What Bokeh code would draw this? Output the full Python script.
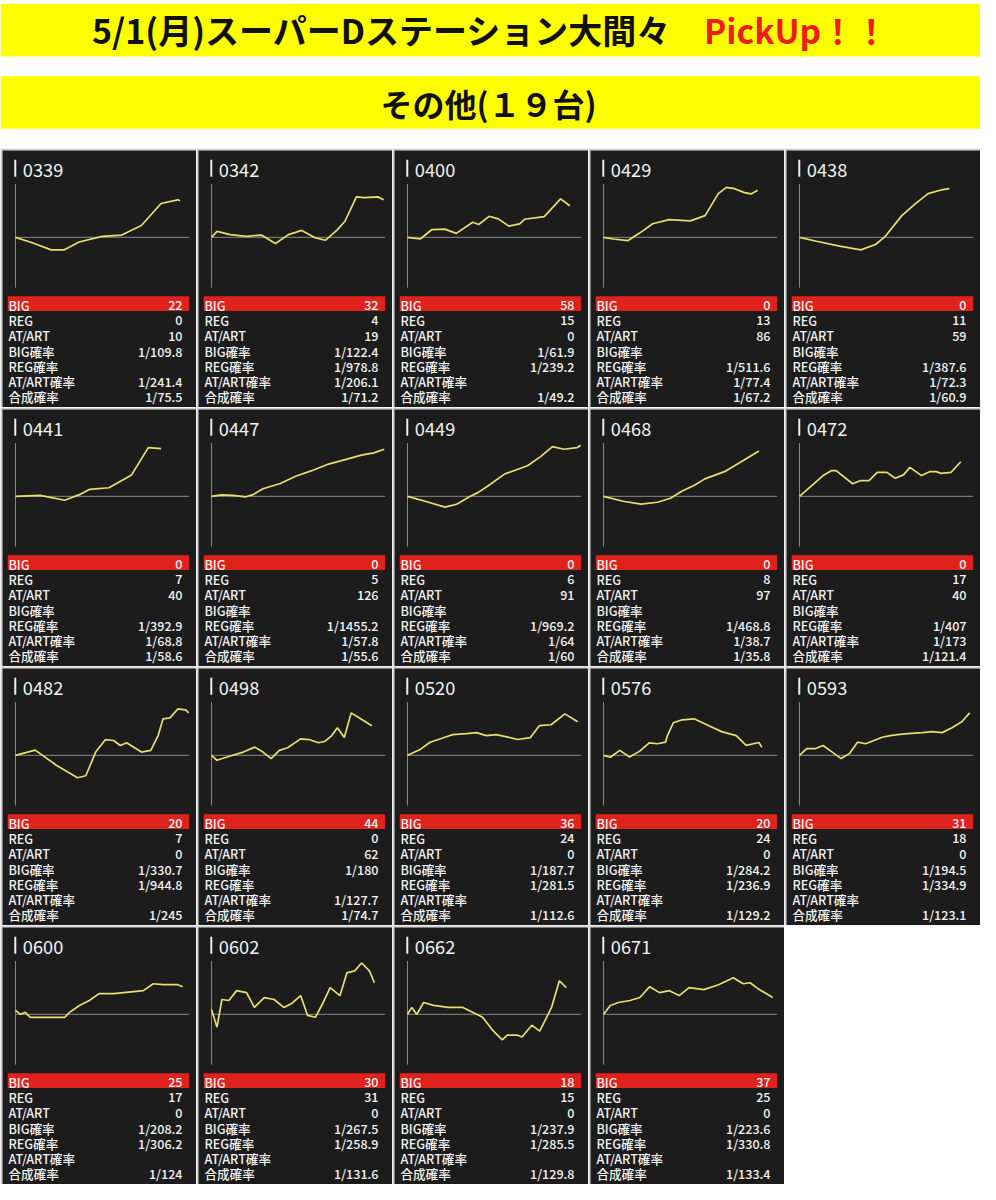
from bokeh.plotting import figure
from bokeh.models import Range1d, ColumnDataSource
from bokeh.layouts import column, gridplot
from bokeh.embed import file_html
from bokeh.resources import INLINE
from bokeh.core.properties import value

# ---------------- data ----------------
title_main = "5/1(月)スーパーDステーション大間々"
title_pick = "PickUp！！"
title_sub = "その他(１９台)"

machines = ["0339", "0342", "0400", "0429", "0438",
            "0441", "0447", "0449", "0468", "0472",
            "0482", "0498", "0520", "0576", "0593",
            "0600", "0602", "0662", "0671"]
big_count = ["22", "32", "58", "0", "0", "0", "0", "0", "0", "0",
             "20", "44", "36", "20", "31", "25", "30", "18", "37"]
reg_count = ["0", "4", "15", "13", "11", "7", "5", "6", "8", "17",
             "7", "0", "24", "24", "18", "17", "31", "15", "25"]
atart_count = ["10", "19", "0", "86", "59", "40", "126", "91", "97", "40",
               "0", "62", "0", "0", "0", "0", "0", "0", "0"]
big_prob = ["1/109.8", "1/122.4", "1/61.9", "", "", "", "", "", "", "",
            "1/330.7", "1/180", "1/187.7", "1/284.2", "1/194.5",
            "1/208.2", "1/267.5", "1/237.9", "1/223.6"]
reg_prob = ["", "1/978.8", "1/239.2", "1/511.6", "1/387.6",
            "1/392.9", "1/1455.2", "1/969.2", "1/468.8", "1/407",
            "1/944.8", "", "1/281.5", "1/236.9", "1/334.9",
            "1/306.2", "1/258.9", "1/285.5", "1/330.8"]
atart_prob = ["1/241.4", "1/206.1", "", "1/77.4", "1/72.3",
              "1/68.8", "1/57.8", "1/64", "1/38.7", "1/173",
              "", "1/127.7", "", "", "", "", "", "", ""]
total_prob = ["1/75.5", "1/71.2", "1/49.2", "1/67.2", "1/60.9",
              "1/58.6", "1/55.6", "1/60", "1/35.8", "1/121.4",
              "1/245", "1/74.7", "1/112.6", "1/129.2", "1/123.1",
              "1/124", "1/131.6", "1/129.8", "1/133.4"]
row_labels = ["BIG", "REG", "AT/ART", "BIG確率", "REG確率", "AT/ART確率", "合成確率"]

# slump graphs (x: progress along the chart axis, y: estimated difference)
x_0339 = [0, 16.3, 36.3, 49.7, 64.7, 88, 108, 128, 148, 164.7, 167.3]
y_0339 = [0, -5.3, -12.7, -12.7, -4.7, 1, 2.3, 12, 34.3, 38, 37]
x_0342 = [0, 5.7, 19, 35.7, 50.7, 65, 78.3, 91.7, 105, 115.7, 127.3, 135.7, 147.3, 155.7, 169, 175]
y_0342 = [0, 6, 2.7, 1, 2.3, -6.3, 2.7, 7, -0.3, -3, 7, 16.3, 41, 40.3, 41, 38]
x_0400 = [0, 13, 24.6, 38, 49.6, 66.3, 72.3, 83, 92.3, 103, 114, 119, 139, 155.6, 165]
y_0400 = [0, -1.7, 7.7, 8.3, 4, 15.3, 13, 21.3, 18.7, 11.3, 13.7, 18.3, 21, 39, 32]
x_0429 = [0, 10, 25, 36.7, 50, 66.7, 88.3, 103.3, 116.7, 125, 133.3, 143.3, 150, 156.7]
y_0429 = [0, -1.7, -3.3, 4.3, 13.7, 18, 16.7, 22, 44.3, 50.7, 49.3, 45.3, 44, 47.7]
x_0438 = [0, 17.3, 40.7, 62.3, 77.3, 87.3, 104, 117.3, 130.7, 144, 152.3]
y_0438 = [0, -4, -9, -12.7, -7.3, 1, 22, 33.7, 44.3, 48, 49.3]
x_0441 = [0, 25, 50, 65, 75, 95, 118, 135, 148]
y_0441 = [0, 1, -4, 1.7, 7, 8.7, 21.7, 49.3, 48.3]
x_0447 = [0, 10, 22, 35, 42.3, 52.3, 70, 85.6, 102, 119, 135, 152.3, 165, 175.6]
y_0447 = [0, 1.5, 1, -0.5, 1.7, 7.7, 13, 20.3, 26, 32.7, 37, 41.7, 44, 47.7]
x_0449 = [0, 18, 38, 50, 62, 72, 82.4, 99, 122, 135, 147.4, 159, 172.4, 176]
y_0449 = [0, -5, -11, -8, -1, 4, 11, 22.7, 31, 40, 50.3, 47.7, 49.3, 51.7]
x_0468 = [0, 20, 38, 55, 68, 80, 92, 103, 123, 140, 158]
y_0468 = [0, -5, -8, -6, -2, 5.3, 11, 17.7, 25, 35, 46]
x_0472 = [0, 24, 32.3, 37.3, 54, 62.3, 70.7, 79, 89, 97.3, 105.7, 112.3, 124, 132.3, 139, 144, 154, 164]
y_0472 = [0, 21, 26, 26, 12.7, 16, 16, 24.3, 24.3, 18.3, 21.7, 29.3, 21, 25, 25, 23.3, 24.3, 35]
x_0482 = [0, 20, 41.5, 63, 71.5, 81.5, 91.5, 99.8, 106.5, 113, 128, 137.5, 145, 150, 157, 165, 173, 176]
y_0482 = [0, 5.3, -10, -22.7, -20.7, 3.3, 16, 15, 10, 12.7, 3.3, 5, 20, 37, 38, 47, 46, 43]
x_0498 = [0, 5.6, 19, 32.3, 44, 52.3, 60.6, 69, 77.3, 90.6, 99, 109, 115.6, 122.3, 128, 135, 142, 150, 163]
y_0498 = [0, -5, -0.7, 3.3, 8.3, 3.3, -3.3, 5, 7.7, 16.7, 16, 12.7, 14.3, 20, 28, 18, 43, 38, 30]
x_0520 = [0, 13, 23, 31.4, 38, 46, 60, 70, 80, 90, 100, 112, 125, 134, 146, 160, 173]
y_0520 = [0, 6, 13.3, 16, 18.3, 21, 22, 23, 20, 21, 19, 16, 18, 30, 31, 42, 34]
x_0576 = [0, 7, 16.5, 26.5, 36.5, 46.5, 55, 63, 65, 71, 80, 92, 105, 120, 135, 145, 158, 161, 164]
y_0576 = [0, -2, 5, -1.7, 4, 12.7, 11.7, 13.3, 20, 33, 36, 37, 31, 24, 20, 10, 13, 8]
x_0593 = [0, 7.3, 15.7, 24, 34, 42.3, 50.7, 59, 67.3, 75.7, 84, 92.3, 100, 110, 125, 135, 145, 155, 165, 173]
y_0593 = [0, 6.7, 6.7, 10, 2.7, -3.3, 1.7, 13.3, 11.7, 15, 18.3, 20, 21, 22, 23, 24, 23, 28, 34, 43]
x_0600 = [0, 5, 10, 15, 25, 50, 55, 65, 75, 85, 100, 110, 130, 140, 150, 165, 170]
y_0600 = [4, 0, 2, -3, -3, -3, 2, 9, 14, 21, 21, 22, 24, 31, 30, 30, 28]
x_0602 = [0, 5.6, 10.6, 17.6, 25.6, 35.6, 43.6, 53.6, 63.6, 73.6, 81.6, 90.6, 97.6, 105.6, 113.6, 120.6, 130.6, 137.6, 145.6, 152.6, 160.6, 165.6]
y_0602 = [5, -13, 15, 14, 24, 22, 7, 17, 15, 7, 11, 19, -1, -3, 12, 27, 19, 42, 44, 52, 44, 32]
x_0662 = [0, 4.4, 9.4, 16.4, 26.4, 41.4, 56.4, 76.4, 86.4, 96.4, 101.4, 111.4, 116.4, 126.4, 134.4, 141.4, 146.4, 154.4, 161.4]
y_0662 = [0, 7, 0, 12, 9, 7, 7, -3, -16, -26, -21, -21, -23, -11, -17, -3, 7, 34, 27]
x_0671 = [0, 7, 15, 27, 37, 47, 57, 67, 77, 87, 102, 117, 132, 142, 149, 157, 172]
y_0671 = [0, 9, 12, 14, 17, 28, 22, 24, 19, 27, 25, 30, 37, 31, 32, 26, 17]

series_x = [x_0339, x_0342, x_0400, x_0429, x_0438, x_0441, x_0447, x_0449, x_0468, x_0472,
            x_0482, x_0498, x_0520, x_0576, x_0593, x_0600, x_0602, x_0662, x_0671]
series_y = [y_0339, y_0342, y_0400, y_0429, y_0438, y_0441, y_0447, y_0449, y_0468, y_0472,
            y_0482, y_0498, y_0520, y_0576, y_0593, y_0600, y_0602, y_0662, y_0671]

# ---------------- style / layout ----------------
FONT = "Noto Sans CJK JP"
FONT_MED = "Noto Sans CJK JP Medium"
YELLOW = "#ffff00"
RED_TXT = "#ee1c1c"
DARK = "#1c1c1c"
GRIDC = "#cdcdcd"
BAR_RED = "#e0221c"
LINE_Y = "#e8df6c"
AXIS_G = "#8a8a8a"
TXT = "#f2f2f2"

FS = 0.985          # font scale (page is slightly smaller than the reference)
PW, PH = 196, 259   # panel size in px
FW, FH = 197.2, 260.5  # panel frame in reference units
CX0 = 13.2          # chart origin x in frame units
ZERO_Y = 88.0       # chart zero line y in frame units (from top)
CX_MAX = 176.5      # chart width
AX_HI, AX_LO = 54, -51  # vertical axis extent

# ---------------- header ----------------
hdr = figure(width=980, height=148, x_range=Range1d(0, 996), y_range=Range1d(150, 0),
             output_backend="svg", toolbar_location=None,
             x_axis_location=None, y_axis_location=None,
             min_border=0, outline_line_color=None,
             background_fill_color="white", border_fill_color="white")
hdr.xgrid.visible = False
hdr.ygrid.visible = False
hdr.quad(left=[0, 0], right=[996, 996], top=[3.3, 76.7], bottom=[56.7, 130],
         fill_color=YELLOW, line_color=None)
hdr.text(x=[93], y=[29], text=[title_main], text_font=value(FONT), text_font_style="bold",
         text_font_size=f"{34.5 * FS:.1f}px", text_color="#111111", text_baseline="middle")
hdr.text(x=[715], y=[29], text=[title_pick], text_font=value(FONT), text_font_style="bold",
         text_font_size=f"{34 * FS:.1f}px", text_color=RED_TXT, text_baseline="middle")
hdr.text(x=[496], y=[104], text=[title_sub], text_font=value(FONT), text_font_style="bold",
         text_font_size=f"{32.5 * FS:.1f}px", text_color="#111111", text_baseline="middle",
         text_align="center")


def make_panel(i):
    p = figure(width=PW, height=PH, x_range=Range1d(0, FW), y_range=Range1d(FH, 0),
               output_backend="svg", toolbar_location=None,
               x_axis_location=None, y_axis_location=None,
               min_border_left=2, min_border_top=2, min_border_right=0, min_border_bottom=0,
               outline_line_color=None, background_fill_color=DARK, border_fill_color=GRIDC)
    p.xgrid.visible = False
    p.ygrid.visible = False
    p.extra_x_ranges = {"cx": Range1d(-CX0, FW - CX0)}
    p.extra_y_ranges = {"cy": Range1d(ZERO_Y - FH, ZERO_Y)}

    # machine number label
    p.quad(left=[12], right=[14], top=[9.3], bottom=[26.7], fill_color="#f0f0f0", line_color=None)
    p.text(x=[20.7], y=[20], text=[machines[i]], text_font=value(FONT),
           text_font_size=f"{18.5 * FS:.1f}px", text_color=TXT, text_baseline="middle")

    # chart axes
    p.segment(x0=[0], y0=[AX_LO], x1=[0], y1=[AX_HI], x_range_name="cx", y_range_name="cy",
              line_color=AXIS_G, line_width=1)
    p.segment(x0=[0], y0=[0], x1=[CX_MAX], y1=[0], x_range_name="cx", y_range_name="cy",
              line_color=AXIS_G, line_width=1)
    p.line(series_x[i], series_y[i], x_range_name="cx", y_range_name="cy",
           line_color=LINE_Y, line_width=1.7)

    # stats table
    p.quad(left=[5.3], right=[189.7], top=[147.7], bottom=[162.7], fill_color=BAR_RED, line_color=None)
    vals = [big_count[i], reg_count[i], atart_count[i], big_prob[i], reg_prob[i],
            atart_prob[i], total_prob[i]]
    ys = [156.8 + 15.5 * k for k in range(len(row_labels))]
    src = ColumnDataSource(dict(y=ys, lab=row_labels, val=vals))
    p.text(x=6, y="y", text="lab", source=src, text_font=value(FONT_MED),
           text_font_size=f"{12.8 * FS:.1f}px", text_color=TXT, text_baseline="middle")
    p.text(x=183, y="y", text="val", source=src, text_font=value(FONT_MED),
           text_font_size=f"{12.8 * FS:.1f}px", text_color=TXT, text_baseline="middle",
           text_align="right")
    return p


panels = [make_panel(i) for i in range(len(machines))]
rows = []
for r in range(4):
    rw = []
    for c in range(5):
        k = r * 5 + c
        rw.append(panels[k] if k < len(panels) else None)
    rows.append(rw)

grid = gridplot(rows, toolbar_location=None)
page = column(hdr, grid)

open("out.html", "w").write(file_html(page, INLINE))
